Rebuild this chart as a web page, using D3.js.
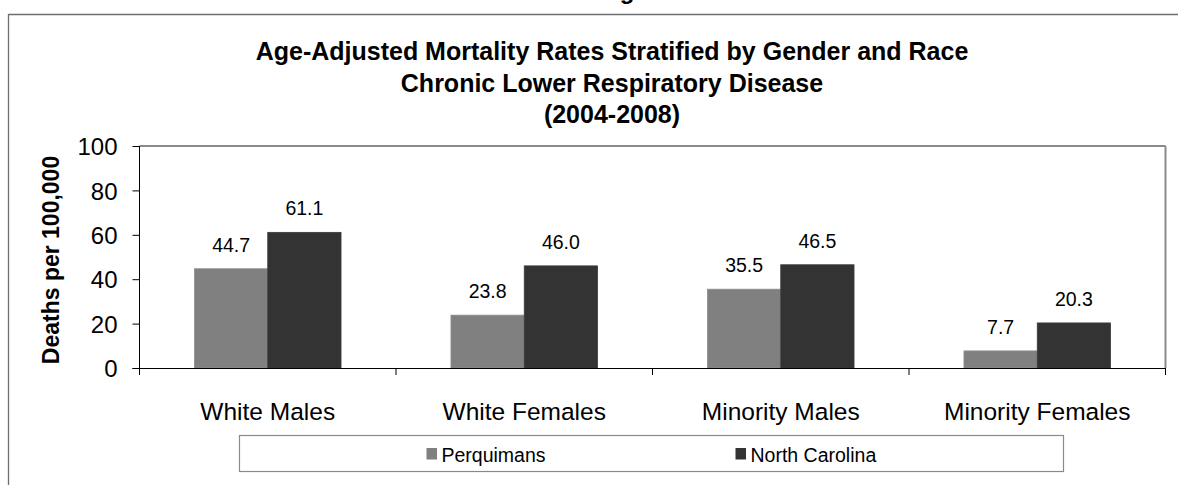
<!DOCTYPE html>
<html>
<head>
<meta charset="utf-8">
<script src="https://cdn.jsdelivr.net/npm/d3@7"></script>
<style>
  html, body { margin: 0; padding: 0; background: #fff; }
  svg { display: block; font-family: "Liberation Sans", Arial, sans-serif; }
</style>
</head>
<body>
<svg id="chart" width="1178" height="485"></svg>
<script>
const categories = ["White Males", "White Females", "Minority Males", "Minority Females"];
const seriesNames = ["Perquimans", "North Carolina"];
const perquimans = [44.7, 23.8, 35.5, 7.7];
const northCarolina = [61.1, 46.0, 46.5, 20.3];
const yTicks = [0, 20, 40, 60, 80, 100];
const titleLines = [
  "Age-Adjusted Mortality Rates Stratified by Gender and Race",
  "Chronic Lower Respiratory Disease",
  "(2004-2008)"
];
const yAxisTitle = "Deaths per 100,000";
const colors = ["#808080", "#333333"];

const seriesValues = [perquimans, northCarolina];
const data = categories.map((c, i) => ({
  cat: c,
  vals: seriesNames.map((s, j) => ({ series: s, value: seriesValues[j][i], idx: j }))
}));

const svg = d3.select("#chart");
const plot = { left: 139.5, right: 1165.5, top: 146, bottom: 368 };

// Outer frame (top & left lines)
svg.append("line").attr("x1", 8.5).attr("x2", 1178).attr("y1", 14.5).attr("y2", 14.5)
  .attr("stroke", "#6e6e6e").attr("stroke-width", 1.3);
svg.append("line").attr("x1", 8.5).attr("x2", 8.5).attr("y1", 14).attr("y2", 485)
  .attr("stroke", "#6e6e6e").attr("stroke-width", 1.3);

// Cut-off heading descender above the frame (as in the reference)
svg.append("text").attr("x", 627).attr("y", -1).attr("text-anchor", "middle")
  .attr("font-size", 24).attr("font-weight", "bold").text("g");

const x0 = d3.scaleBand().domain(categories).range([plot.left, plot.right]).paddingInner(0).paddingOuter(0);
const bw = x0.bandwidth();
const x1 = d3.scaleBand().domain(seriesNames).range([bw * 0.2143, bw * 0.7857]).padding(0);
const y = d3.scaleLinear().domain([0, 100]).range([plot.bottom, plot.top]);

// Plot border (top & right, gray)
svg.append("line").attr("x1", plot.left).attr("x2", plot.right).attr("y1", plot.top).attr("y2", plot.top)
  .attr("stroke", "#8a8a8a").attr("stroke-width", 2);
svg.append("line").attr("x1", plot.right).attr("x2", plot.right).attr("y1", plot.top).attr("y2", plot.bottom)
  .attr("stroke", "#8a8a8a").attr("stroke-width", 2);

// Bars
const groups = svg.append("g").selectAll("g").data(data).join("g")
  .attr("transform", d => `translate(${x0(d.cat)},0)`);
groups.selectAll("rect").data(d => d.vals).join("rect")
  .attr("x", d => x1(d.series))
  .attr("width", x1.bandwidth())
  .attr("y", d => y(d.value))
  .attr("height", d => y(0) - y(d.value))
  .attr("fill", d => colors[d.idx])
  .attr("stroke", d => d.idx === 0 ? "#8c8c8c" : "#3a3a3a")
  .attr("stroke-width", 0.8);
groups.selectAll("text").data(d => d.vals).join("text")
  .attr("x", d => x1(d.series) + x1.bandwidth() / 2)
  .attr("y", d => y(d.value) - 17)
  .attr("text-anchor", "middle")
  .attr("font-size", 19.5)
  .attr("fill", "#000")
  .text(d => d.value.toFixed(1));

// Y axis
const yAxis = d3.axisLeft(y).tickValues(yTicks).tickSize(7).tickPadding(15).tickFormat(d3.format("d"));
const gy = svg.append("g").attr("transform", `translate(${plot.left},0)`).call(yAxis);
gy.select(".domain").attr("stroke", "#000").attr("d", `M0,${plot.top}V${plot.bottom}`);
gy.selectAll(".tick line").attr("stroke", "#000");
gy.selectAll(".tick text").attr("font-size", 24).attr("font-family", "Liberation Sans, Arial, sans-serif")
  .attr("fill", "#000").attr("dy", "0.36em");

// X axis
const boundaries = categories.map(c => x0(c)).concat([plot.right]);
const gx = svg.append("g");
gx.append("line").attr("x1", plot.left - 7).attr("x2", plot.right).attr("y1", plot.bottom + 0.5).attr("y2", plot.bottom + 0.5)
  .attr("stroke", "#000").attr("stroke-width", 1.2);
gx.selectAll("line.tk").data(boundaries).join("line").attr("class", "tk")
  .attr("x1", d => d).attr("x2", d => d).attr("y1", plot.bottom).attr("y2", plot.bottom + 7)
  .attr("stroke", "#000");
gx.selectAll("text").data(categories).join("text")
  .attr("x", d => x0(d) + bw / 2).attr("y", 420)
  .attr("text-anchor", "middle").attr("font-size", 24.5).attr("fill", "#000")
  .text(d => d);

// Y axis title
svg.append("text")
  .attr("transform", `translate(59,260) rotate(-90)`)
  .attr("text-anchor", "middle").attr("font-size", 23).attr("font-weight", "bold")
  .text(yAxisTitle);

// Title
const tBase = [60, 91.5, 123];
svg.append("g").selectAll("text").data(titleLines).join("text")
  .attr("x", 612).attr("y", (d, i) => tBase[i])
  .attr("text-anchor", "middle").attr("font-size", 25).attr("font-weight", "bold")
  .text(d => d);

// Legend
svg.append("rect").attr("x", 239.5).attr("y", 435.5).attr("width", 824).attr("height", 36)
  .attr("fill", "#fff").attr("stroke", "#8a8a8a").attr("stroke-width", 1.2);
const legendX = [426.5, 735.5];
const lg = svg.append("g").selectAll("g").data(seriesNames).join("g")
  .attr("transform", (d, i) => `translate(${legendX[i]},0)`);
lg.append("rect").attr("x", 0).attr("y", 448).attr("width", 10.5).attr("height", 11.5)
  .attr("fill", (d, i) => colors[i]);
lg.append("text").attr("x", 15).attr("y", 461.5).attr("font-size", 19.5).attr("fill", "#000")
  .text(d => d);
</script>
</body>
</html>
